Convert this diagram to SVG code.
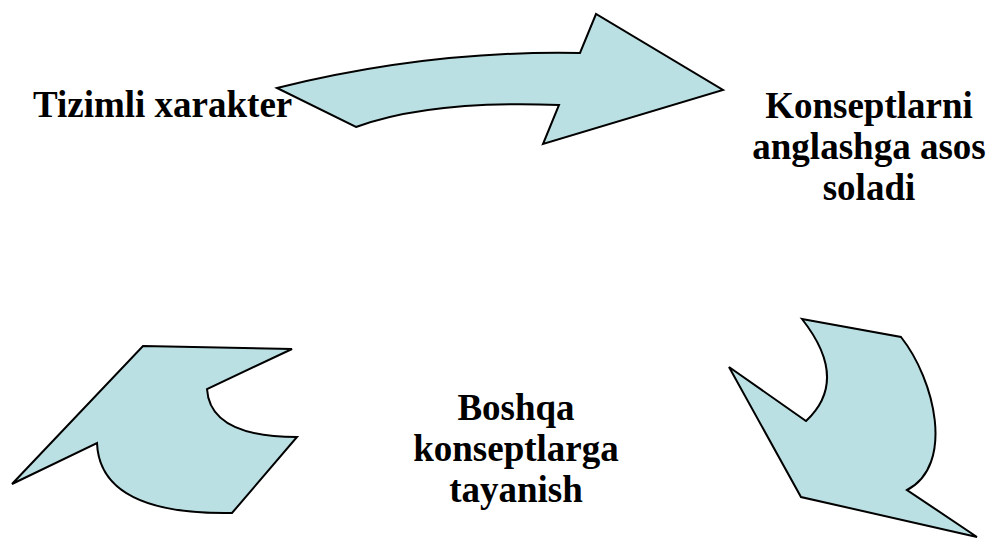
<svg xmlns="http://www.w3.org/2000/svg" width="990" height="538" viewBox="0 0 990 538">
<style>
.arr{fill:#BBE0E3;stroke:#000;stroke-width:2;stroke-linejoin:miter}
.t{font-family:"Liberation Serif","Times New Roman",serif;font-weight:bold;font-size:37px;fill:#000}
</style>
<rect width="990" height="538" fill="#fff"/>
<g id="connectors">
<path id="arrow-top" class="arr" d="M277,88 Q430,50 580,53 L596,14 L723,90 L543,144 L559,105 Q430,100 356,127 Z"/>
<path id="arrow-right" class="arr" d="M802,319 L901,337 C935,380 955,465 907,490 L977,537 L801,497 L729,367 L806,421 Q850,380 802,319 Z"/>
<path id="arrow-left" class="arr" d="M143,346 L292,349 L207,389 Q210,437 297,437 L232,513 Q100,515 97,443 L12,484 Z"/>
</g>
<g id="node-tizimli">
<text class="t" x="33" y="117">Tizimli xarakter</text>
</g>
<g id="node-konseptlarni">
<text class="t" x="869" y="118" text-anchor="middle">Konseptlarni</text>
<text class="t" x="869" y="159" text-anchor="middle">anglashga asos</text>
<text class="t" x="869" y="200" text-anchor="middle">soladi</text>
</g>
<g id="node-boshqa">
<text class="t" x="516" y="420" text-anchor="middle">Boshqa</text>
<text class="t" x="516" y="461" text-anchor="middle">konseptlarga</text>
<text class="t" x="516" y="502" text-anchor="middle">tayanish</text>
</g>
</svg>
